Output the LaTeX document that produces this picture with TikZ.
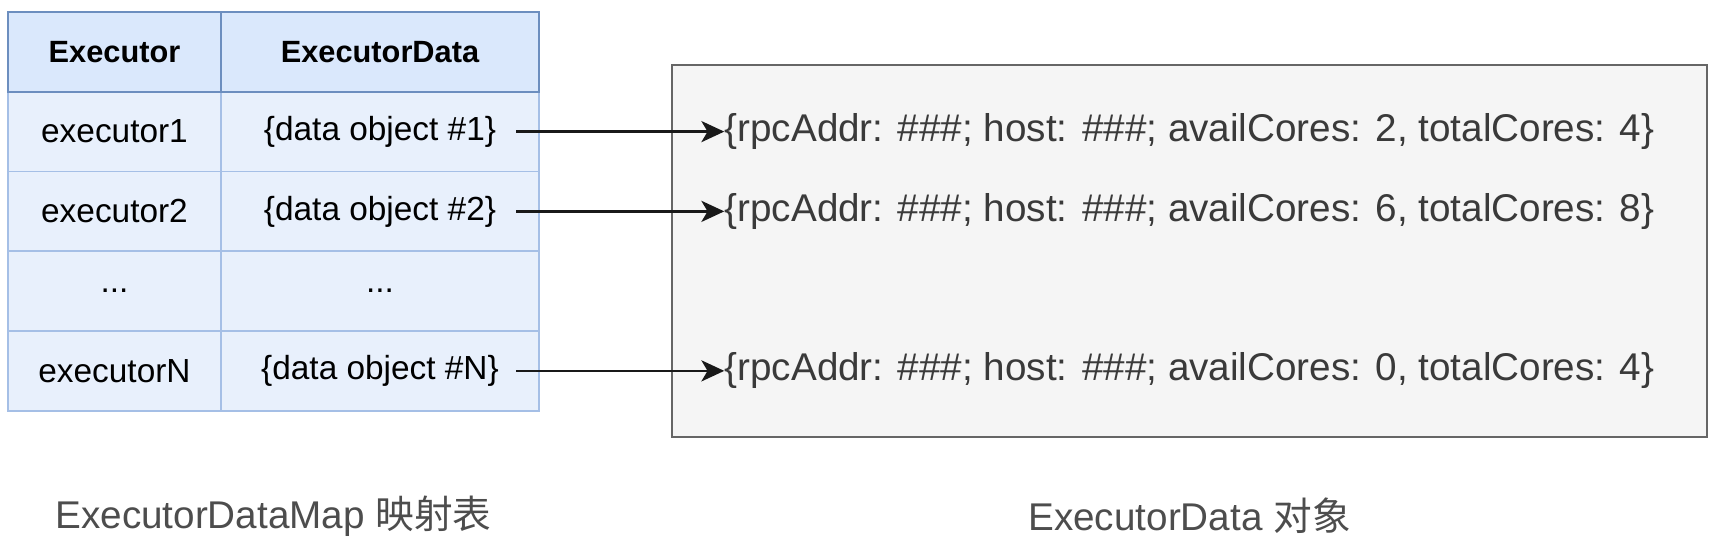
\documentclass[tikz,border=0pt]{standalone}
\usepackage{fontspec}
\setmainfont{Liberation Sans}
\newfontfamily\cjk{Noto Sans CJK SC}
\usetikzlibrary{positioning, arrows.meta}
\definecolor{headfill}{HTML}{DAE8FC}
\definecolor{headline}{HTML}{6C8EBF}
\definecolor{rowfill}{HTML}{E8F0FC}
\definecolor{rowline}{HTML}{A5BFE6}
\definecolor{boxfill}{HTML}{F5F5F5}
\definecolor{boxline}{HTML}{666666}
\definecolor{rectext}{HTML}{3A3A3A}
\definecolor{captext}{HTML}{4D4D4D}
\tikzset{
  rowcell/.style={
    draw=rowline,
    fill=rowfill,
    line width=1.1pt,
    rectangle,
    minimum height=1.595cm,
    inner sep=0pt,
    outer sep=0pt,
    font=\fontsize{19}{23}\selectfont
  },
  headcell/.style={
    rowcell,
    draw=headline,
    fill=headfill,
    font=\fontsize{17.5}{21}\selectfont\bfseries
  },
  keycol/.style={minimum width=4.26cm},
  valcol/.style={minimum width=6.36cm},
  objbox/.style={
    draw=boxline,
    fill=boxfill,
    line width=1.4pt,
    minimum width=20.7cm,
    minimum height=7.44cm
  },
  record/.style={
    text=rectext,
    inner sep=0pt,
    font=\fontsize{22}{26}\selectfont
  },
  caption/.style={
    text=captext,
    font=\fontsize{22}{26}\selectfont
  },
  link/.style={
    line width=1.5pt,
    black!90,
    -{Stealth[length=13pt, width=12pt, inset=3.5pt]},
    shorten <=-0.46cm
  }
}

\begin{document}
\begin{tikzpicture}
    \useasboundingbox (0,0) rectangle (34.3,-11.04);

    % map table
    \node[rowcell, keycol] (e1) at (2.29,-2.6325) {executor1};
    \node[rowcell, valcol, right=0pt of e1] (d1) {\{data object \#1\}};
    \node[rowcell, keycol, below=0pt of e1] (e2) {executor2};
    \node[rowcell, valcol, right=0pt of e2] (d2) {\{data object \#2\}};
    \node[rowcell, keycol, below=0pt of e2] (e3) {...};
    \node[rowcell, valcol, right=0pt of e3] (d3) {...};
    \node[rowcell, keycol, below=0pt of e3] (eN) {executorN};
    \node[rowcell, valcol, right=0pt of eN] (dN) {\{data object \#N\}};
    \node[headcell, keycol, above=0pt of e1] (hkey) {Executor};
    \node[headcell, valcol, above=0pt of d1] (hval) {ExecutorData};

    % data objects
    \node[objbox] (obj) at (23.79,-5.02) {};
    \node[record] (r1) at (d1 -| obj) {\{rpcAddr: \#\#\#; host: \#\#\#; availCores: 2, totalCores: 4\}};
    \node[record] (r2) at (d2 -| obj) {\{rpcAddr: \#\#\#; host: \#\#\#; availCores: 6, totalCores: 8\}};
    \node[record] (rN) at (dN -| obj) {\{rpcAddr: \#\#\#; host: \#\#\#; availCores: 0, totalCores: 4\}};

    \draw[link] (d1.east) -- (r1.west);
    \draw[link] (d2.east) -- (r2.west);
    \draw[link] (dN.east) -- (rN.west);

    \node[caption] (mapcap) at (5.47,-10.32) {ExecutorDataMap {\cjk 映射表}};
    \node[caption] (objcap) at (23.79,-10.32) {ExecutorData {\cjk 对象}};
\end{tikzpicture}
\end{document}
